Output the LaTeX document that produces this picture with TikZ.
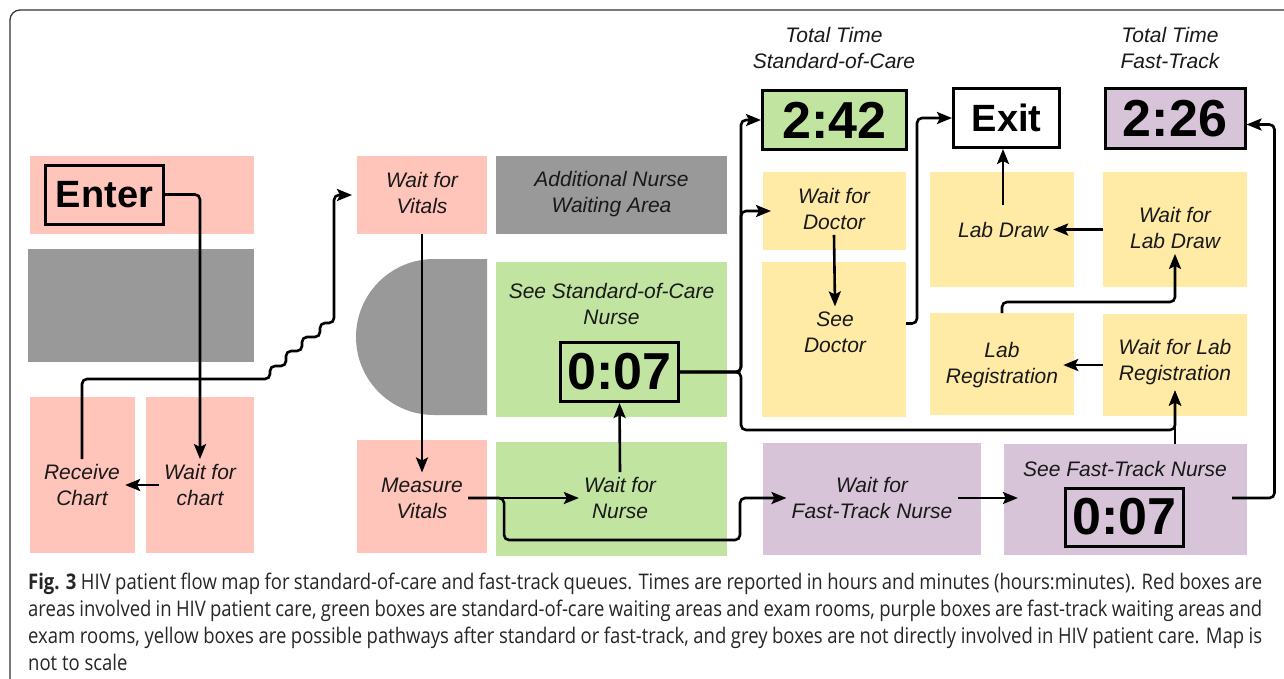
\documentclass[tikz,border=0pt]{standalone}
\usepackage{fontspec}
\setmainfont{Liberation Sans}
\newfontfamily\capfont[FakeStretch=0.86]{Open Sans}
\usepackage{tikz}
\usetikzlibrary{arrows.meta}
\definecolor{hivpink}{RGB}{255,196,186}
\definecolor{socgreen}{RGB}{193,228,160}
\definecolor{ftpurple}{RGB}{216,196,216}
\definecolor{labyellow}{RGB}{255,235,166}
\definecolor{othergrey}{RGB}{153,153,153}
\tikzstyle{area} = [inner sep=0pt, outer sep=0pt]
\tikzstyle{lbl} = [font=\fontsize{21}{26}\selectfont\itshape, align=center, inner sep=5pt, text=black!90]
\tikzstyle{clock} = [draw, line width=3pt, inner sep=0pt, font=\fontsize{52}{52}\selectfont\bfseries]
\tikzstyle{flow} = [line width=2.6pt, rounded corners=5pt, -{Stealth[length=15pt,width=12pt,inset=3pt]}]
\tikzstyle{caption} = [anchor=base west, inner sep=0pt, font=\capfont\fontsize{21.5}{26}\selectfont, text=black!85]

\begin{document}
\begin{tikzpicture}[x=1pt,y=-1pt]
	\useasboundingbox (0,0) rectangle (1284,678);
	\fill[white] (0,0) rectangle (1284,678);
	\draw[black!80, line width=1.3pt, rounded corners=10pt] (10,10) rectangle (1320,720);
	\node[area, fill=hivpink, minimum width=224pt, minimum height=78pt] (enterarea) at (142,195) {};
	\node[area, fill=othergrey, minimum width=226pt, minimum height=113pt] (deskarea) at (141,305.5) {};
	\node[area, fill=hivpink, minimum width=105pt, minimum height=156pt] (receivearea) at (82.5,475) {};
	\node[area, fill=hivpink, minimum width=108pt, minimum height=156pt] (waitchartarea) at (200,475) {};
	\node[area, fill=hivpink, minimum width=130pt, minimum height=78pt] (waitvitarea) at (422,195) {};
	\node[area, fill=othergrey, minimum width=231pt, minimum height=78pt] (addnursearea) at (611.5,195) {};
	\fill[othergrey] (487,259) -- (434,259) arc (-90:-270:78) -- (487,415) -- cycle;
	\node[area, fill=socgreen, minimum width=231pt, minimum height=155pt] (socnursearea) at (611.5,339.5) {};
	\node[area, fill=hivpink, minimum width=130pt, minimum height=113pt] (measurearea) at (422,496.5) {};
	\node[area, fill=socgreen, minimum width=231pt, minimum height=114pt] (waitnursearea) at (611.5,499) {};
	\node[area, fill=labyellow, minimum width=143pt, minimum height=78pt] (waitdocarea) at (834.5,211) {};
	\node[area, fill=labyellow, minimum width=144pt, minimum height=155pt] (seedocarea) at (834,339.5) {};
	\node[area, fill=ftpurple, minimum width=218pt, minimum height=112pt] (waitftarea) at (872,499) {};
	\node[area, fill=labyellow, minimum width=144pt, minimum height=115pt] (labdrawarea) at (1002,229.5) {};
	\node[area, fill=labyellow, minimum width=144pt, minimum height=115pt] (waitlabdrawarea) at (1175,229.5) {};
	\node[area, fill=labyellow, minimum width=144pt, minimum height=102pt] (labregarea) at (1002,364) {};
	\node[area, fill=labyellow, minimum width=144pt, minimum height=102pt] (waitlabregarea) at (1175,365) {};
	\node[area, fill=ftpurple, minimum width=243pt, minimum height=111pt] (seeftarea) at (1125.5,499.5) {};

	\node[clock, font=\fontsize{38}{38}\selectfont\bfseries, minimum width=118pt, minimum height=59pt] (enter) at (104.5,194.5) {Enter};
	\node[lbl] (waitchart) at (200,485) {Wait for\\chart};
	\node[lbl] (receive) at (82,485) {Receive\\Chart};
	\node[lbl] (waitvit) at (422,193) {Wait for\\Vitals};
	\node[lbl] (addnurse) at (611.5,194) {Additional Nurse\\Waiting Area};
	\node[lbl] (socnurse) at (611.5,304) {See Standard-of-Care\\Nurse};
	\node[clock, minimum width=118pt, minimum height=59pt] (soc007) at (619.5,372) {0:07};
	\node[lbl] (measure) at (422,498) {Measure\\Vitals};
	\node[lbl] (waitnurse) at (620,498) {Wait for\\Nurse};
	\node[lbl] (totsoc) at (834,48) {Total Time\\Standard-of-Care};
	\node[clock, fill=socgreen, minimum width=144pt, minimum height=59pt] (tot242) at (834.5,120) {2:42};
	\node[lbl] (waitdoc) at (834,209) {Wait for\\Doctor};
	\node[lbl] (seedoc) at (835,332) {See\\Doctor};
	\node[lbl] (waitft) at (872,498) {Wait for\\Fast-Track Nurse};
	\node[clock, fill=white, font=\fontsize{38}{38}\selectfont\bfseries, minimum width=106pt, minimum height=59pt] (exit) at (1006.5,118) {Exit};
	\node[lbl] (totft) at (1170,48) {Total Time\\Fast-Track};
	\node[clock, fill=ftpurple, minimum width=140pt, minimum height=60pt] (tot226) at (1175,118.5) {2:26};
	\node[lbl] (labdraw) at (1003,229.5) {Lab Draw};
	\node[lbl] (waitlabdraw) at (1175,228) {Wait for\\Lab Draw};
	\node[lbl] (labreg) at (1002,365) {Lab\\Registration};
	\node[lbl] (waitlabreg) at (1175,362.5) {Wait for Lab\\Registration};
	\node[lbl] (seeft) at (1125,469) {See Fast-Track Nurse};
	\node[clock, minimum width=118pt, minimum height=58pt] (ft007) at (1124.5,517) {0:07};

	\coordinate (stairfoot) at (270,379);
	\coordinate (ftlow) at (740,540);
	\coordinate (socbend) at (741,430);
	\coordinate (labjoin) at (1175,430);
	\draw[flow] (enter.east) -| (waitchart.north);
	\draw[flow] (waitchart.west) -- (receive.east);
	\draw[flow] (receive.north) |- (stairfoot) -- ++(0,-13) -- ++(16,0) -- ++(0,-15) -- ++(16,0) -- ++(0,-14) -- ++(18,0) -- ++(0,-14) -- ++(14,0) |- ([xshift=-5pt]waitvitarea.west);
	\draw[flow] (waitvitarea.south) -- (measure.north);
	\draw[flow] (measure.east) -- (waitnurse.west);
	\draw[flow] (measure.east) -- ++(36,0) |- (ftlow) |- (waitft.west);
	\draw[flow] (waitnurse.north) -- (soc007.south);
	\draw[flow] (soc007.east) -| (socbend |- tot242.west) -- (tot242.west);
	\draw[flow] (soc007.east) -| (socbend |- waitdocarea.west) -- ([xshift=8pt]waitdocarea.west);
	\draw[flow] (soc007.east) -| (socbend) -- (labjoin) -- (waitlabreg.south);
	\draw[flow] (waitlabreg.south |- seeftarea.north) -- (waitlabreg.south);
	\draw[flow] (waitdoc.south) -- (seedoc.north);
	\draw[flow] ([yshift=16pt]seedocarea.east) -- ++(11,0) |- (exit.west);
	\draw[flow] ([yshift=12pt]labdraw.north) -- (labdraw.north |- exit.south);
	\draw[flow] (waitlabdrawarea.west) -- (labdraw.east);
	\draw[flow] (labregarea.north) -- ++(0,-11) -| (waitlabdraw.south);
	\draw[flow] (waitlabregarea.west) -- (labreg.east);
	\draw[flow] (waitft.east) -- (seeft.west |- waitft.east);
	\draw[flow] (seeft.east |- waitft.east) -| ([xshift=28pt,yshift=-6pt]tot226.east) -- ([yshift=-6pt]tot226.east);

	\node[caption] (cap1) at (28,589) {\makebox[1234pt][s]{\textbf{Fig. 3} HIV patient flow map for standard-of-care and fast-track queues. Times are reported in hours and minutes (hours:minutes). Red boxes are}};
	\node[caption] (cap2) at (28,616) {\makebox[1234pt][s]{areas involved in HIV patient care, green boxes are standard-of-care waiting areas and exam rooms, purple boxes are fast-track waiting areas and}};
	\node[caption] (cap3) at (28,643) {\makebox[1234pt][s]{exam rooms, yellow boxes are possible pathways after standard or fast-track, and grey boxes are not directly involved in HIV patient care. Map is}};
	\node[caption] (cap4) at (28,670) {not to scale};
\end{tikzpicture}
\end{document}
